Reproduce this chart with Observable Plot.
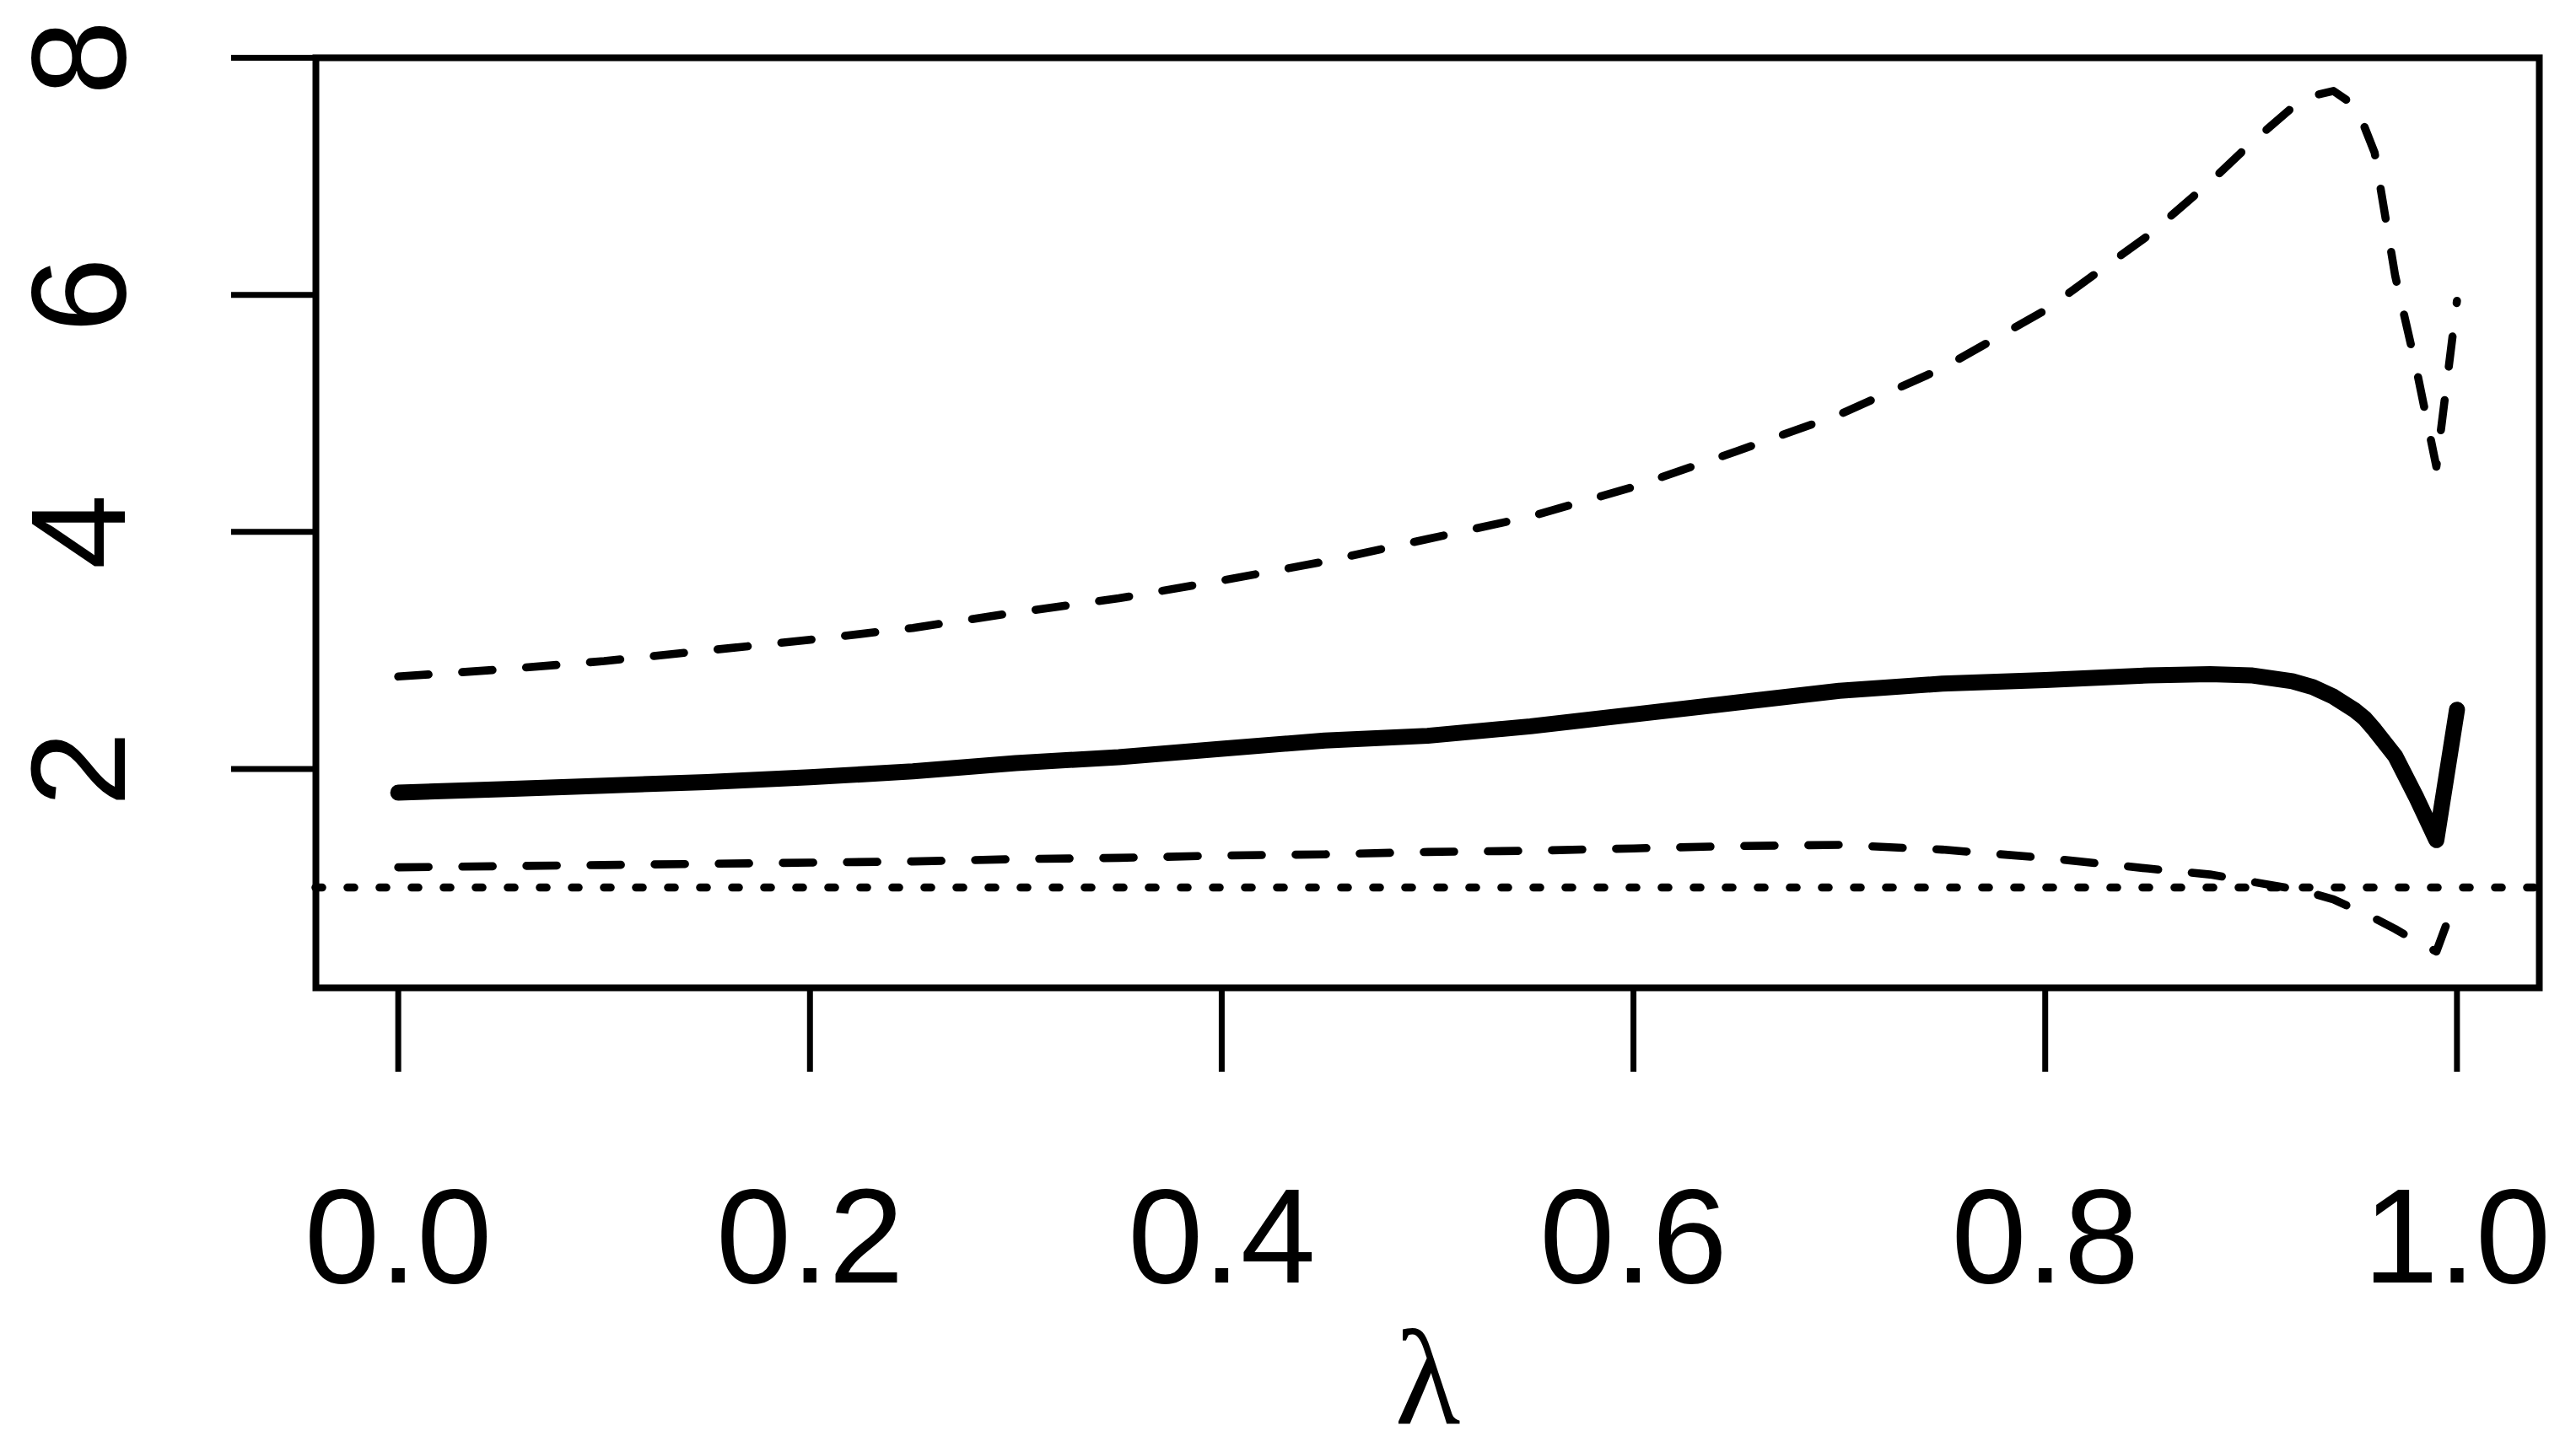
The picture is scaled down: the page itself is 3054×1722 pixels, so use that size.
<!DOCTYPE html>
<html>
<head>
<meta charset="utf-8">
<script src="https://cdn.jsdelivr.net/npm/d3@7"></script>
<script src="https://cdn.jsdelivr.net/npm/@observablehq/plot@0.6"></script>
<style>
  html, body { margin: 0; padding: 0; background: #fff; overflow: hidden; }
</style>
</head>
<body>
<div id="chart"></div>
<script>
// λ grid
const lambda = [0, 0.05, 0.1, 0.15, 0.2, 0.25, 0.3, 0.35, 0.4, 0.45, 0.5, 0.55, 0.6, 0.65, 0.7, 0.75, 0.8, 0.85, 0.88, 0.9, 0.92, 0.93, 0.94, 0.95, 0.955, 0.96, 0.97, 0.98, 0.99, 1.0];
// estimate (solid line)
const estimate = [1.80, 1.83, 1.86, 1.89, 1.93, 1.98, 2.05, 2.10, 2.17, 2.24, 2.28, 2.36, 2.46, 2.56, 2.66, 2.72, 2.75, 2.79, 2.80, 2.79, 2.74, 2.69, 2.61, 2.50, 2.43, 2.33, 2.11, 1.77, 1.40, 2.50];
// upper bound (dashed)
const upper = [2.78, 2.84, 2.91, 3.00, 3.09, 3.19, 3.32, 3.44, 3.59, 3.75, 3.94, 4.13, 4.38, 4.68, 4.99, 5.38, 5.87, 6.50, 6.95, 7.28, 7.58, 7.68, 7.72, 7.60, 7.42, 7.20, 6.16, 5.40, 4.55, 5.95];
// lower bound (dashed)
const lower = [1.17, 1.18, 1.19, 1.20, 1.21, 1.22, 1.24, 1.25, 1.27, 1.28, 1.30, 1.31, 1.33, 1.35, 1.36, 1.32, 1.25, 1.16, 1.11, 1.05, 0.99, 0.95, 0.90, 0.82, 0.78, 0.74, 0.65, 0.55, 0.46, 0.93];
// reference level (dotted)
const refLevel = [1];
// ticks
const xTicks = [0, 0.2, 0.4, 0.6, 0.8, 1.0];
const yTicks = [2, 4, 6, 8];
const xLabel = "λ";

const rows = lambda.map((l, i) => ({lambda: l, est: estimate[i], up: upper[i], lo: lower[i]}));

const chart = Plot.plot({
  width: 3054,
  height: 1722,
  marginLeft: 374,
  marginRight: 44,
  marginTop: 68,
  marginBottom: 551,
  x: {domain: [-0.04, 1.04]},
  y: {domain: [0.154, 8]},
  style: {fontFamily: "'Liberation Sans', Arial, sans-serif", background: "white", color: "black"},
  marks: [
    Plot.ruleY(refLevel, {stroke: "black", strokeWidth: 9.6, strokeDasharray: "8,30", strokeLinecap: "round"}),
    Plot.line(rows, {x: "lambda", y: "up", stroke: "black", strokeWidth: 9.6, strokeDasharray: "36,40", strokeLinecap: "round", strokeLinejoin: "round"}),
    Plot.line(rows, {x: "lambda", y: "lo", stroke: "black", strokeWidth: 9.6, strokeDasharray: "36,40", strokeLinecap: "round", strokeLinejoin: "round"}),
    Plot.line(rows, {x: "lambda", y: "est", stroke: "black", strokeWidth: 19, strokeLinecap: "round", strokeLinejoin: "round"}),
    Plot.frame({stroke: "black", strokeWidth: 8}),
    Plot.axisX({ticks: xTicks, tickSize: 100, tickPadding: 136, fontSize: 160, tickFormat: d3.format(".1f"), label: null, strokeWidth: 7}),
    Plot.axisY({ticks: yTicks, tickSize: 100, tickPadding: 127, tickRotate: -90, fontSize: 160, label: null, strokeWidth: 7}),
    Plot.text([xLabel], {text: d => d, frameAnchor: "bottom", dy: 516, lineAnchor: "bottom", fontSize: 160, fontFamily: "'Liberation Serif', 'DejaVu Serif', serif"})
  ]
});
document.getElementById("chart").appendChild(chart);
</script>
</body>
</html>
